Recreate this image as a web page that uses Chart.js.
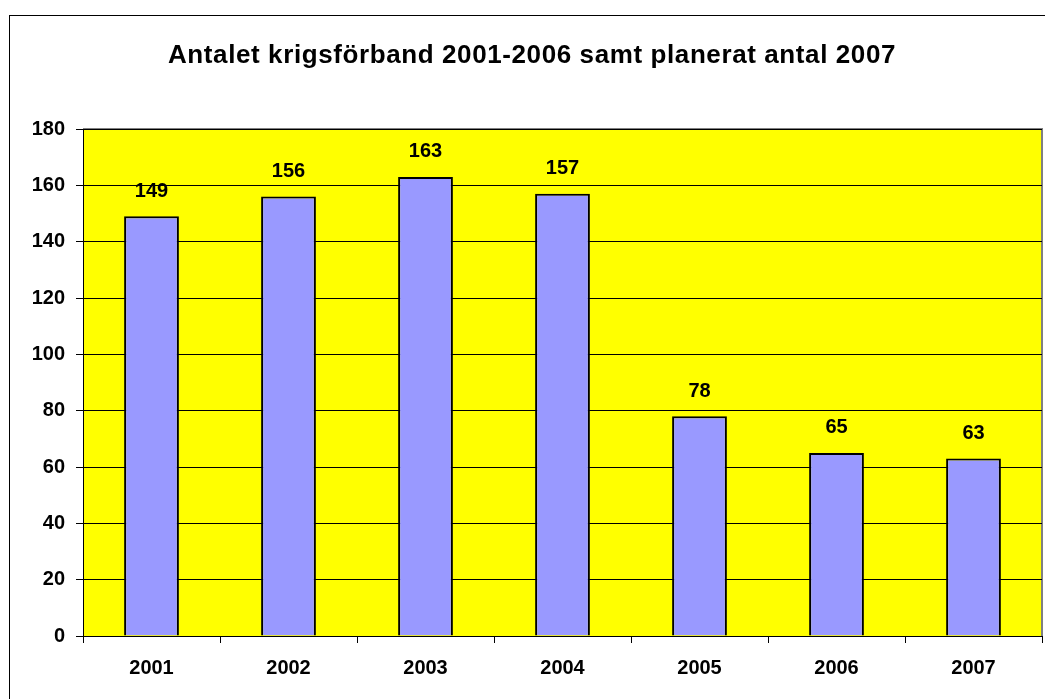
<!DOCTYPE html>
<html><head><meta charset="utf-8">
<script src="https://cdn.jsdelivr.net/npm/chart.js@4/dist/chart.umd.min.js"></script>
<style>html,body{margin:0;padding:0;background:#fff}#wrap{width:1045px;height:699px}</style>
</head><body><div id="wrap"><canvas id="c" width="1045" height="699"></canvas></div>
<script>
const categories = ['2001','2002','2003','2004','2005','2006','2007'];
const values = [149,156,163,157,78,65,63];
const titleText = 'Antalet krigsförband 2001-2006 samt planerat antal 2007';
const FONT = 'Arial, "Liberation Sans", sans-serif';

const bgPlugin = {
  id: 'bg',
  beforeDraw(chart) {
    const ctx = chart.ctx, a = chart.chartArea;
    ctx.save();
    ctx.fillStyle = '#ffffff';
    ctx.fillRect(0, 0, chart.width, chart.height);
    ctx.strokeStyle = '#000000';
    ctx.lineWidth = 1;
    ctx.strokeRect(9.5, 15.5, 1200, 800);
    ctx.fillStyle = '#FFFF00';
    ctx.fillRect(a.left, a.top, a.right - a.left, a.bottom - a.top);
    ctx.strokeStyle = '#808080';
    ctx.lineWidth = 2;
    ctx.beginPath();
    ctx.moveTo(a.left, a.top);
    ctx.lineTo(a.right, a.top);
    ctx.lineTo(a.right, a.bottom);
    ctx.stroke();
    // title
    ctx.fillStyle = '#000';
    ctx.font = 'bold 26px ' + FONT;
    try { ctx.letterSpacing = '0.6px'; } catch (e) {}
    ctx.textAlign = 'center';
    ctx.textBaseline = 'alphabetic';
    ctx.fillText(titleText, 532, 63);
    ctx.restore();
  }
};
const labelPlugin = {
  id: 'vals',
  afterDatasetsDraw(chart) {
    const ctx = chart.ctx;
    const meta = chart.getDatasetMeta(0);
    ctx.save();
    ctx.font = 'bold 20px ' + FONT;
    ctx.fillStyle = '#000';
    ctx.textAlign = 'center';
    ctx.textBaseline = 'middle';
    meta.data.forEach((bar, i) => {
      ctx.fillText(String(values[i]), bar.x, bar.y - 25);
    });
    ctx.restore();
  }
};

new Chart(document.getElementById('c'), {
  type: 'bar',
  data: {
    labels: categories,
    datasets: [{
      data: values,
      backgroundColor: '#9999FF',
      borderColor: '#000000',
      borderWidth: 2,
      barPercentage: 0.4,
      categoryPercentage: 1.0
    }]
  },
  options: {
    responsive: false,
    animation: false,
    devicePixelRatio: 1,
    layout: { padding: { left: 0, right: 3, top: 129, bottom: 0 } },
    plugins: {
      legend: { display: false },
      tooltip: { enabled: false },
      title: { display: false, text: titleText }
    },
    scales: {
      x: {
        grid: { display: true, drawOnChartArea: false, drawTicks: true, tickLength: 7, color: '#000', offset: true },
        border: { display: true, color: '#000', width: 1 },
        ticks: { color: '#000', font: { family: FONT, size: 20, weight: 'bold' }, padding: 13, maxRotation: 0 },
        afterFit(s) { s.height = 63; }
      },
      y: {
        min: 0, max: 180,
        ticks: { stepSize: 20, color: '#000', font: { family: FONT, size: 20, weight: 'bold' }, padding: 11 },
        grid: { color: '#000', lineWidth: 1, tickLength: 7, drawTicks: true },
        border: { display: true, color: '#000', width: 1 },
        afterFit(s) { s.width = 83; }
      }
    }
  },
  plugins: [bgPlugin, labelPlugin]
});
</script></body></html>
